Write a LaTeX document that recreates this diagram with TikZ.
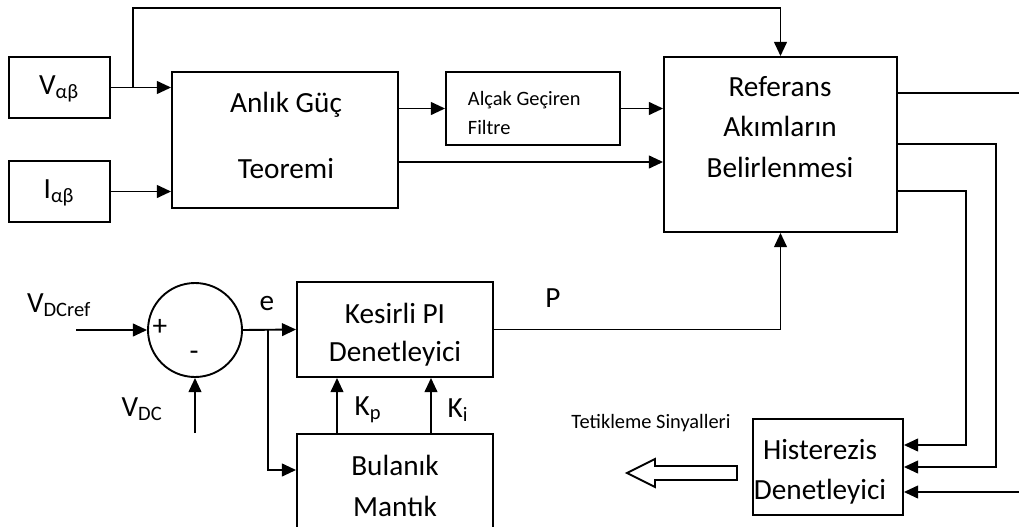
\documentclass[tikz,border=0pt]{standalone}
\usepackage{fontspec}
\setmainfont{Carlito}
\usetikzlibrary{arrows.meta}

\begin{document}
\begin{tikzpicture}[x=0.025cm, y=-0.025cm, line width=1.35pt,
    blok/.style 2 args = {draw, rectangle, minimum width=#1*0.025cm, minimum height=#2*0.025cm, inner sep=0pt},
    yazi/.style = {font=\fontsize{20.8}{29}\selectfont, align=center, inner sep=0pt},
    kucuk/.style = {font=\fontsize{14.5}{21}\selectfont, align=left, inner sep=0pt},
    arr/.style = {-{Triangle[length=10pt, width=9pt]}}]
\useasboundingbox (0,0) rectangle (1019,526);

    % bloklar
    \node[blok={101}{61}] (vab) at (59.5,87.5) {};
    \node[blok={101}{61}] (iab) at (59.5,191.5) {};
    \node[blok={226}{136}] (anlik) at (285,140) {};
    \node[blok={174}{73}] (filtre) at (533,108.5) {};
    \node[blok={233}{175}] (ref) at (780.5,144.5) {};
    \node[blok={196}{95}] (kes) at (395,329.5) {};
    \node[blok={196}{106}] (bul) at (395,487) {};
    \node[blok={150}{96}] (hist) at (828,467) {};
    \node[draw, circle, minimum size=94*0.025cm, inner sep=0pt] (sum) at (195,330) {};

    % yazilar
    \node[yazi] (vabt) at (59,89) {V\textsubscript{αβ}};
    \node[yazi] (iabt) at (59,193) {I\textsubscript{αβ}};
    \node[yazi, font=\fontsize{20.8}{47}\selectfont] (anlikt) at (286,135) {Anlık Güç\\Teoremi};
    \node[kucuk, anchor=west] (filtret) at (467,113) {Alçak Geçiren\\Filtre};
    \node[yazi] (reft) at (780,127) {Referans\\Akımların\\Belirlenmesi};
    \node[yazi, font=\fontsize{20.8}{27}\selectfont] (kest) at (395,334.5) {Kesirli PI\\Denetleyici};
    \node[yazi] (bult) at (395,486) {Bulanık\\Mantık};
    \node[yazi, font=\fontsize{20.8}{28.5}\selectfont] (histt) at (820,472) {Histerezis\\Denetleyici};
    \node[kucuk] (tetik) at (651,423) {Tetikleme Sinyalleri};

    \node[yazi] (vref) at (59,305) {V\textsubscript{DCref}};
    \node[yazi] (vdct) at (142,409) {V\textsubscript{DC}};
    \node[yazi] (arti) at (160,327) {+};
    \node[yazi] (eksi) at (194,356) {-};
    \node[yazi] (et) at (267,304) {e};
    \node[yazi] (pt) at (553,298) {P};
    \node[yazi] (kpt) at (368,410) {K\textsubscript{p}};
    \node[yazi] (kit) at (458,410) {K\textsubscript{i}};

    % baglantilar
    \coordinate (br) at (133,88);
    \coordinate (tp) at (780.5,8);
    \coordinate (ebr) at (268,330);
    \coordinate (vin) at (76,330);
    \coordinate (vdc) at (195,433);
    \coordinate (sag1) at (1025,93);
    \coordinate (sag2) at (1025,492);

\draw[arr] (vab) -- (vab -| anlik.west);
\draw[arr] (br) |- (tp) -- (ref.north);
\draw[arr] (iab) -- (iab -| anlik.west);
\draw[arr] (anlik.east |- filtre) -- (filtre.west);
\draw[arr] (filtre.east) -- (filtre -| ref.west);
\draw[arr] (anlik.east |- 0,162) -- (ref.west |- 0,162);
\draw (ref.east |- sag1) -- (sag1);
\draw[arr] (ref.east |- 0,144) -| (996,467) -- (hist.east |- 0,467);
\draw[arr] (ref.east |- 0,191) -| (966,445) -- (hist.east |- 0,445);
\draw[arr] (sag2) -- (hist.east |- sag2);
\draw[arr] (kes.east) -| (ref.south);
\draw[arr] (vin) -- (sum.west);
\draw[arr] (vdc) -- (sum.south);
\draw[arr] (sum.east) -- (kes.west);
\draw[arr] (ebr) |- (bul.west |- 0,470);
\draw[arr] (bul.north -| 337,0) -- (kes.south -| 337,0);
\draw[arr] (bul.north -| 431,0) -- (kes.south -| 431,0);

    % tetikleme oku
\draw (737,466) -- (655,466) -- (655,459) -- (627,473) -- (655,487) -- (655,480) -- (737,480) -- cycle;
\end{tikzpicture}
\end{document}
